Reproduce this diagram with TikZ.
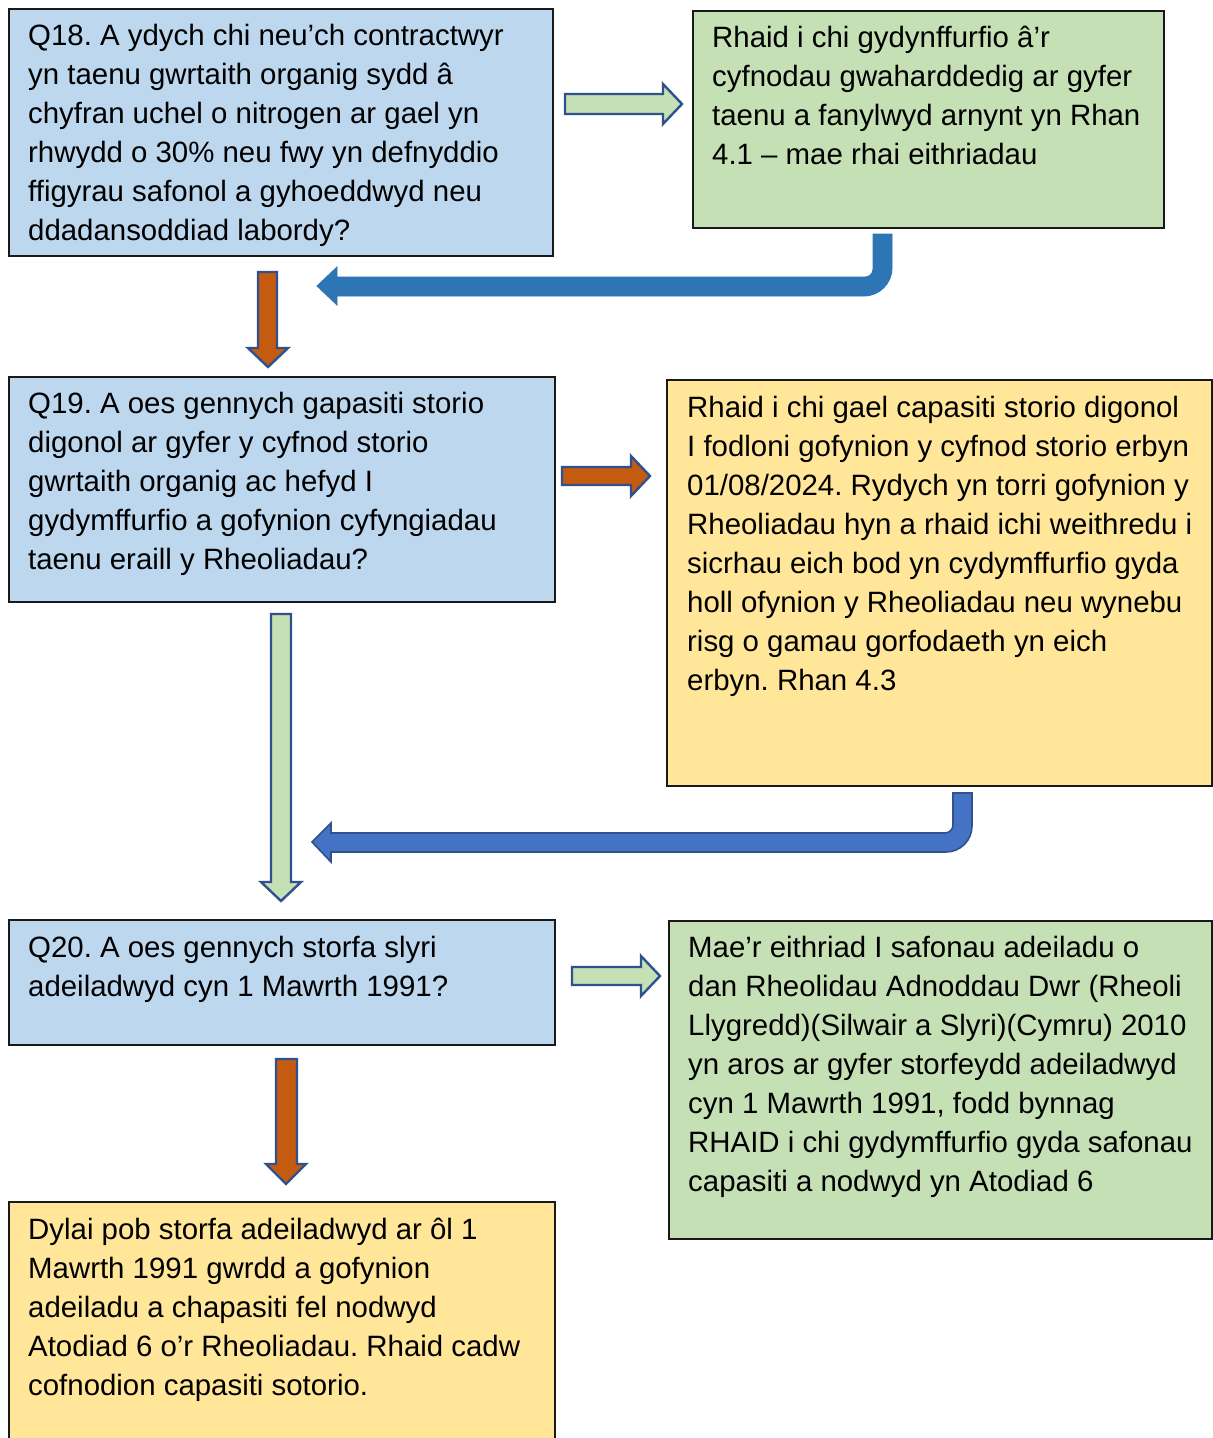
\documentclass[tikz,border=0pt]{standalone}
\usepackage{fontspec}
\setmainfont{Liberation Sans}
\frenchspacing
\begin{document}
\begin{tikzpicture}[x=1pt,y=-1pt,
  boxbase/.style={draw=black!90,line width=1.6pt,rectangle,inner sep=0pt,anchor=north west},
  bluebox/.style={boxbase,fill=qblue},
  greenbox/.style={boxbase,fill=agreen},
  yellowbox/.style={boxbase,fill=ayellow},
  txt/.style={inner sep=0pt,anchor=north west,align=left,font=\fontsize{29.4}{39}\selectfont\frenchspacing},
  greenarrow/.style={fill=agreen,draw=aborder,line width=2.4pt,line join=miter},
  orangearrow/.style={fill=aorange,draw=aborder,line width=2.4pt,line join=miter},
  uarrowA/.style={fill=ublueA,draw=ublueA,line width=0.8pt},
  uarrowB/.style={fill=ublueB,draw=aborder,line width=1.6pt}
]
\definecolor{qblue}{HTML}{BDD7EE}
\definecolor{agreen}{HTML}{C5E0B4}
\definecolor{ayellow}{HTML}{FFE699}
\definecolor{aorange}{HTML}{C55A11}
\definecolor{aborder}{HTML}{2F528F}
\definecolor{ublueA}{HTML}{2E75B6}
\definecolor{ublueB}{HTML}{4472C4}
\useasboundingbox (0,0) rectangle (1213,1438);
\fill[white] (0,0) rectangle (1213,1438);

% boxes
\node[bluebox,minimum width=544pt,minimum height=247pt] (b1) at (8,8) {};
\node[greenbox,minimum width=471pt,minimum height=217pt] (b2) at (692,10) {};
\node[bluebox,minimum width=546pt,minimum height=225pt] (b3) at (8,376) {};
\node[yellowbox,minimum width=545pt,minimum height=406pt] (b4) at (666,379) {};
\node[bluebox,minimum width=546pt,minimum height=125pt] (b5) at (8,919) {};
\node[greenbox,minimum width=543pt,minimum height=318pt] (b6) at (668,920) {};
\node[yellowbox,minimum width=546pt,minimum height=260pt] (b7) at (8,1201) {};

% texts
\node[txt] (t1) at (28,18) {\strut Q18. A ydych chi neu’ch contractwyr\\yn taenu gwrtaith organig sydd â\\chyfran uchel o nitrogen ar gael yn\\rhwydd o 30\% neu fwy yn defnyddio\\ffigyrau safonol a gyhoeddwyd neu\\ddadansoddiad labordy?};
\node[txt] (t2) at (712,20) {\strut Rhaid i chi gydynffurfio â’r\\cyfnodau gwaharddedig ar gyfer\\taenu a fanylwyd arnynt yn Rhan\\4.1 – mae rhai eithriadau};
\node[txt] (t3) at (28,386) {\strut Q19. A oes gennych gapasiti storio\\digonol ar gyfer y cyfnod storio\\gwrtaith organig ac hefyd I\\gydymffurfio a gofynion cyfyngiadau\\taenu eraill y Rheoliadau?};
\node[txt] (t4) at (687,390) {\strut Rhaid i chi gael capasiti storio digonol\\I fodloni gofynion y cyfnod storio erbyn\\01/08/2024. Rydych yn torri gofynion y\\Rheoliadau hyn a rhaid ichi weithredu i\\sicrhau eich bod yn cydymffurfio gyda\\holl ofynion y Rheoliadau neu wynebu\\risg o gamau gorfodaeth yn eich\\erbyn. Rhan 4.3};
\node[txt] (t5) at (28,930) {\strut Q20. A oes gennych storfa slyri\\adeiladwyd cyn 1 Mawrth 1991?};
\node[txt] (t6) at (688,930) {\strut Mae’r eithriad I safonau adeiladu o\\dan Rheolidau Adnoddau Dwr (Rheoli\\Llygredd)(Silwair a Slyri)(Cymru) 2010\\yn aros ar gyfer storfeydd adeiladwyd\\cyn 1 Mawrth 1991, fodd bynnag\\RHAID i chi gydymffurfio gyda safonau\\capasiti a nodwyd yn Atodiad 6};
\node[txt] (t7) at (28,1212) {\strut Dylai pob storfa adeiladwyd ar ôl 1\\Mawrth 1991 gwrdd a gofynion\\adeiladu a chapasiti fel nodwyd\\Atodiad 6 o’r Rheoliadau. Rhaid cadw\\cofnodion capasiti sotorio.};

% right block arrows
\draw[greenarrow] (565,94) -- (663,94) -- (663,84) -- (682,104) -- (663,124) -- (663,114) -- (565,114) -- cycle;
\draw[orangearrow] (562,467) -- (631,467) -- (631,456) -- (650,476) -- (631,496) -- (631,485) -- (562,485) -- cycle;
\draw[greenarrow] (572,967) -- (641,967) -- (641,956) -- (660,976) -- (641,996) -- (641,985) -- (572,985) -- cycle;

% down block arrows
\draw[orangearrow] (258,272) -- (277,272) -- (277,348) -- (288,348) -- (268,367) -- (248,348) -- (258,348) -- cycle;
\draw[greenarrow] (271,614) -- (291,614) -- (291,882) -- (301,882) -- (281,901) -- (261,882) -- (271,882) -- cycle;
\draw[orangearrow] (276,1059) -- (297,1059) -- (297,1164) -- (306,1164) -- (286,1184) -- (266,1164) -- (276,1164) -- cycle;

% U-turn arrows
\draw[uarrowA] (873,234) -- (892,234) -- (892,268) arc[start angle=0,end angle=90,radius=28] -- (337,296) -- (337,305) -- (317,286) -- (337,267) -- (337,277) -- (865,277) arc[start angle=90,end angle=0,radius=8] -- cycle;
\draw[uarrowB] (953,793) -- (972,793) -- (972,826) arc[start angle=0,end angle=90,radius=26] -- (331,852) -- (331,862) -- (312,842) -- (331,823) -- (331,833) -- (945,833) arc[start angle=90,end angle=0,radius=8] -- cycle;
\end{tikzpicture}
\end{document}
